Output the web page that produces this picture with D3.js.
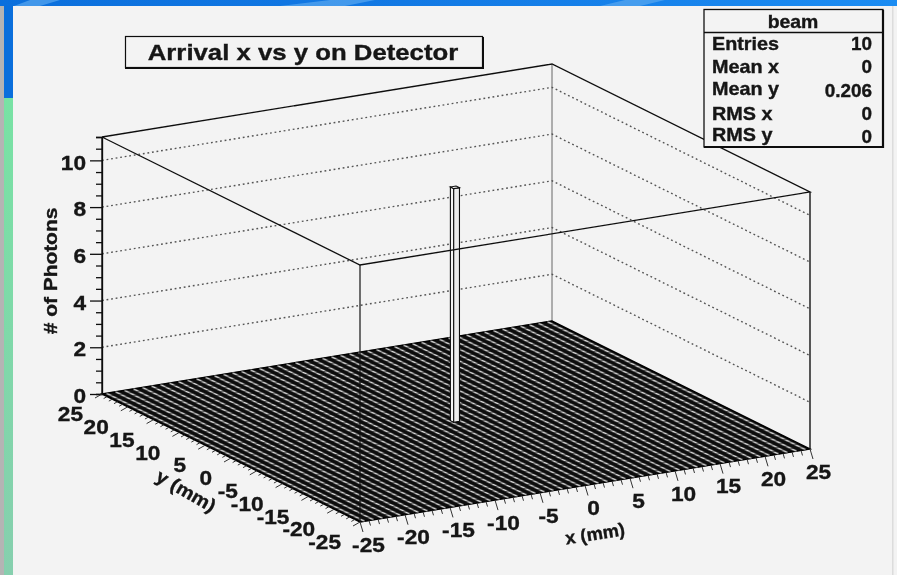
<!DOCTYPE html>
<html><head><meta charset="utf-8">
<script src="https://cdn.jsdelivr.net/npm/d3@7"></script>
<style>html,body{margin:0;padding:0;background:#f3f3f3}svg{display:block}text{font-family:"Liberation Sans",Arial,sans-serif;font-weight:bold;fill:#141414;stroke:#141414;stroke-width:.35px}</style>
</head><body><svg id="c" width="897" height="575"></svg>
<script>
const titleText = "Arrival x vs y on Detector";
const statsTitle = "beam";
const statNames = ["Entries","Mean x","Mean y","RMS x","RMS y"];
const statValues = ["10","0","0.206","0","0"];
const xTicks = [-25,-20,-15,-10,-5,0,5,10,15,20,25];
const yTicks = [25,20,15,10,5,0,-5,-10,-15,-20,-25];
const zTicks = [0,2,4,6,8,10];
const binEdges = d3.range(-25,25.001,1);
const spikeX = 0, spikeY = 0.206, spikeCount = 10, spikeHalf = 0.32;

const svg = d3.select("#c");
// slide background
const defs = svg.append("defs");
const g1 = defs.append("linearGradient").attr("id","top");
[[0,"#0b6fdc"],[.45,"#1279e4"],[1,"#1b8cf2"]].forEach(d=>g1.append("stop").attr("offset",d[0]).attr("stop-color",d[1]));
const g2 = defs.append("linearGradient").attr("id","grn").attr("x2",0).attr("y2",1);
[[0,"#78e2a4"],[1,"#86cfae"]].forEach(d=>g2.append("stop").attr("offset",d[0]).attr("stop-color",d[1]));
defs.append("filter").attr("id","soft").append("feGaussianBlur").attr("stdDeviation",0.4);
svg.append("rect").attr("width",897).attr("height",575).attr("fill","#f3f3f3");
svg.append("rect").attr("width",897).attr("height",6).attr("fill","url(#top)");
[[14,30,60,40],[280,330,375,345],[600,625,665,640]].forEach(p=>svg.append("polygon")
  .attr("points",`${p[0]},6 ${p[1]},0 ${p[2]},0 ${p[3]},6`).attr("fill","#5aa8f0").attr("opacity",.7));
svg.append("rect").attr("x",0).attr("y",6).attr("width",4).attr("height",569).attr("fill","#b4b4b4");
svg.append("rect").attr("x",4).attr("y",6).attr("width",9).attr("height",92).attr("fill","#0a6fdc");
svg.append("rect").attr("x",4).attr("y",98).attr("width",9).attr("height",477).attr("fill","url(#grn)");
svg.append("rect").attr("x",892).attr("y",6).attr("width",1.5).attr("height",569).attr("fill","#dcdcdc");

const chart = svg.append("g").attr("filter","url(#soft)");
// oblique projection built from linear scales
const ox = 102, oy = 394;
const xPx = d3.scaleLinear().domain([-25,25]).range([0,450]);
const xPy = d3.scaleLinear().domain([-25,25]).range([0,-73]);
const yPx = d3.scaleLinear().domain([25,-25]).range([0,258]);
const yPy = d3.scaleLinear().domain([25,-25]).range([0,128]);
const zPy = d3.scaleLinear().domain([0,11]).range([394,137]);
const P = (x,y,z=0)=>[ox+xPx(x)+yPx(y), oy+xPy(x)+yPy(y)+(zPy(z)-394)];
const line = d3.line();
const seg = (pts,stroke,w,dash,parent=chart)=>parent.append("path").attr("d",line(pts)).attr("fill","none")
  .attr("stroke",stroke).attr("stroke-width",w).attr("stroke-dasharray",dash||null);
function txt(x,y,s,size,anchor="middle",rot=0,sx=1.08){
  return chart.append("text").attr("transform",`translate(${x},${y}) rotate(${rot}) scale(${sx},1)`)
    .attr("text-anchor",anchor).attr("dominant-baseline","central").attr("font-size",size).text(s);
}

// walls: back edges and dotted grid
seg([P(25,25,0),P(25,25,11)],"#666",1);
seg([P(-25,25,0),P(-25,25,11)],"#111",1.4);
zTicks.filter(z=>z>0).forEach(z=>seg([P(-25,25,z),P(25,25,z),P(25,-25,z)],"#555",1.4,"1.8 2.8"));

// floor: one cell row per x bin
chart.append("polygon").attr("points",[P(-25,25),P(25,25),P(25,-25),P(-25,-25)].join(" ")).attr("fill","#101010").attr("stroke","#000").attr("stroke-width",1.4);
const centres = binEdges.slice(0,-1).map(d=>d+0.5);
centres.forEach(x=>{ seg([P(x,25),P(x,-25)],"#6c6c6c",2.2); seg([P(x,25),P(x,-25)],"#e8e8e8",0.9); });
binEdges.forEach(y=>seg([P(-25,y),P(25,y)],"#000",0.5));

// spike
const s = spikeHalf, X=spikeX, Y=spikeY, H=spikeCount;
chart.append("polygon").attr("points",[P(X-s,Y+s),P(X-s,Y-s),P(X-s,Y-s,H),P(X-s,Y+s,H)].join(" ")).attr("fill","#f4f4f4").attr("stroke","#111").attr("stroke-width",1.1);
chart.append("polygon").attr("points",[P(X-s,Y-s),P(X+s,Y-s),P(X+s,Y-s,H),P(X-s,Y-s,H)].join(" ")).attr("fill","#ececec").attr("stroke","#111").attr("stroke-width",1.1);
chart.append("polygon").attr("points",[P(X-s,Y+s,H),P(X+s,Y+s,H),P(X+s,Y-s,H),P(X-s,Y-s,H)].join(" ")).attr("fill","#f7f7f7").attr("stroke","#111").attr("stroke-width",1.1);

// front frame
seg([P(-25,-25,0),P(-25,-25,11)],"#111",1.2);
seg([P(25,-25,0),P(25,-25,11)],"#111",1.4);
seg([P(-25,25,11),P(25,25,11),P(25,-25,11),P(-25,-25,11),P(-25,25,11)],"#111",1.3);

// z axis
const zAxis = d3.axisLeft(zPy).tickValues(d3.range(0,11.01,0.5)).tickSize(6).tickFormat("");
const zg = chart.append("g").attr("transform",`translate(${ox},0)`).call(zAxis);
zg.selectAll("path,line").attr("stroke","#111").attr("stroke-width",1.3);
zg.selectAll(".tick line").filter(d=>d%2===0).attr("x2",-12);
zTicks.forEach(z=>txt(86,zPy(z)+2,z,21,"end"));

// x axis ticks and labels
d3.range(-25,25.01,1).forEach(v=>{const p=P(v,-25),m=v%5===0;seg([p,[p[0]+(m?3:1.5),p[1]+(m?10:5)]],"#333",1);});
xTicks.forEach(v=>{const p=P(v,-25);txt(p[0]+8.5,p[1]+22.5,v,21);});
// y axis ticks and labels
d3.range(-25,25.01,1).forEach(v=>{const p=P(-25,v),m=v%5===0;seg([p,[p[0]-(m?7:3.5),p[1]+(m?4:2)]],"#333",1);});
yTicks.forEach(v=>{const p=P(-25,v);txt(p[0]-19,p[1]+20,v,21,"end");});

txt(595,534,"x (mm)",18,"middle",-9,1.02);
txt(186,491,"y (mm)",18.5,"middle",30,1.08);
txt(50,271,"# of Photons",19,"middle",-90,1.1);

// title box
chart.append("rect").attr("x",125.5).attr("y",36.5).attr("width",357).attr("height",31).attr("fill","#f3f3f3").attr("stroke","#111").attr("stroke-width",1.2);
seg([[125,68],[483,68],[483,37]],"#111",2);
txt(303,52,titleText,23,"middle",0,1.12);

// stats box
chart.append("rect").attr("x",704).attr("y",9.5).attr("width",179).attr("height",137.5).attr("fill","#f3f3f3").attr("stroke","#111").attr("stroke-width",1.3);
seg([[704,147],[883,147],[883,10]],"#111",2.2);
seg([[704,32.5],[883,32.5]],"#111",1.3);
txt(793,22,statsTitle,18,"middle",0,1.08);
const rowLab=[44,67,89,114,135], rowVal=[44,67,91,114,137];
statNames.forEach((n,i)=>txt(712,rowLab[i],n,18,"start",0,1.1));
statValues.forEach((n,i)=>txt(872,rowVal[i],n,18,"end",0,1.05));
</script></body></html>
